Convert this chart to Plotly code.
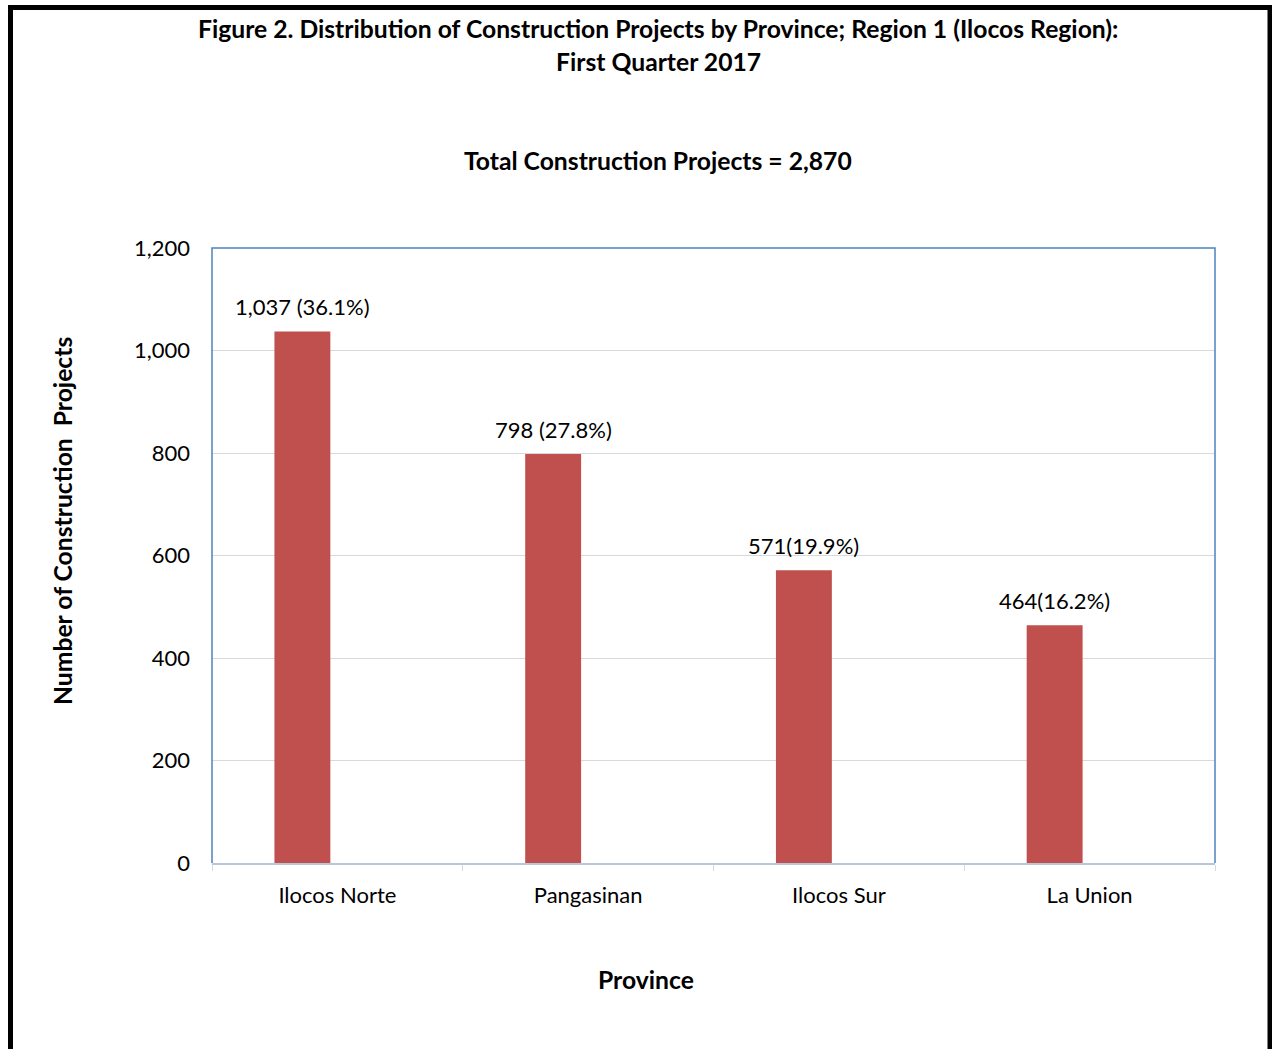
import plotly.graph_objects as go

provinces = ["Ilocos Norte", "Pangasinan", "Ilocos Sur", "La Union"]
projects = [1037, 798, 571, 464]
labels = ["1,037 (36.1%)", "798 (27.8%)", "571(19.9%)", "464(16.2%)"]
y_ticks = [0, 200, 400, 600, 800, 1000, 1200]

W, H = 1272, 1049
L, R, T, B = 212, 57, 248, 186
PW, PH = W - L - R, H - T - B

def px(x):
    return (x - L) / PW

def py(y):
    return (H - B - y) / PH

FONT = "Lato"
BAR = "#c0504d"
BOLD = 24.7
REG = 22

fig = go.Figure()
fig.add_trace(go.Bar(
    x=provinces, y=projects, marker=dict(color=BAR, line=dict(width=0)),
    width=0.223, offset=-0.251, hoverinfo="skip",
))

annotations = []
for p, v, t in zip(provinces, projects, labels):
    annotations.append(dict(x=p, y=v, xref="x", yref="y", text=t, showarrow=False,
                            xanchor="center", yanchor="middle", yshift=25, xshift=-35,
                            font=dict(family=FONT, size=REG, color="black")))

annotations += [
    dict(text="<b>Figure 2. Distribution of Construction Projects by Province; Region 1 (Ilocos Region):</b>",
         x=px(658), y=py(29), xref="paper", yref="paper", showarrow=False,
         xanchor="center", yanchor="middle", font=dict(family=FONT, size=BOLD, color="black")),
    dict(text="<b>First Quarter 2017</b>",
         x=px(658), y=py(62), xref="paper", yref="paper", showarrow=False,
         xanchor="center", yanchor="middle", font=dict(family=FONT, size=BOLD, color="black")),
    dict(text="<b>Total Construction Projects = 2,870</b>",
         x=px(658), y=py(160), xref="paper", yref="paper", showarrow=False,
         xanchor="center", yanchor="middle", font=dict(family=FONT, size=BOLD, color="black")),
    dict(text="<b>Province</b>",
         x=px(646), y=py(979), xref="paper", yref="paper", showarrow=False,
         xanchor="center", yanchor="middle", font=dict(family=FONT, size=BOLD, color="black")),
    dict(text="<b>Number of Construction  Projects</b>", textangle=-90,
         x=px(62), y=py(521), xref="paper", yref="paper", showarrow=False,
         xanchor="center", yanchor="middle", font=dict(family=FONT, size=BOLD, color="black")),
]

shapes = [
    # outer black frame
    dict(type="rect", xref="paper", yref="paper", x0=px(10.5), x1=px(1270), y0=py(1070), y1=py(7.5),
         line=dict(color="black", width=5), fillcolor="rgba(0,0,0,0)", layer="above"),
    # plot area border (left, top, right)
    dict(type="path", xref="paper", yref="paper", path="M 0 0 L 0 1 L 1 1 L 1 0",
         line=dict(color="#4f81bd", width=1.5), layer="above"),
]

fig.update_layout(
    width=W, height=H, margin=dict(l=L, r=R, t=T, b=B, pad=0),
    paper_bgcolor="white", plot_bgcolor="white",
    showlegend=False, annotations=annotations, shapes=shapes,
    font=dict(family=FONT, size=REG, color="black"),
    xaxis=dict(showline=True, linecolor="#b9c7dd", linewidth=2, ticks="outside", tickson="boundaries",
               ticklen=6, tickcolor="#d9d9d9", showgrid=False, ticklabelstandoff=12,
               tickfont=dict(family=FONT, size=REG, color="black")),
    yaxis=dict(range=[0, 1200], tickvals=y_ticks, tickformat=",", showgrid=True, gridcolor="#d9d9d9",
               gridwidth=1, zeroline=False, showline=False, ticks="", ticklabelstandoff=21,
               tickfont=dict(family=FONT, size=REG, color="black")),
)

fig.write_html("out.html")
